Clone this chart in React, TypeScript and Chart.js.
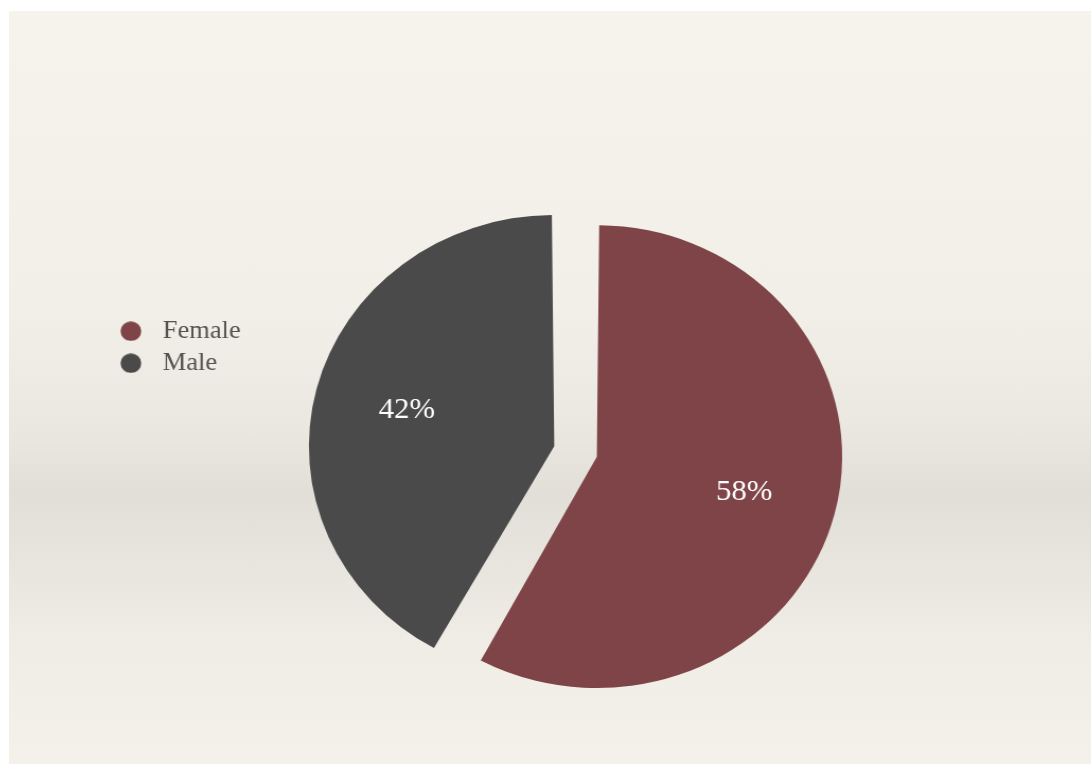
import React, { useEffect, useRef } from 'react';
import { Chart, registerables } from 'chart.js';

Chart.register(...registerables);

// ---- data ----
const categories: string[] = ['Female', 'Male'];
const shares: number[] = [58, 42];
const sliceColors: string[] = ['#7e4447', '#4a4a4a'];
const sliceOffsets: number[] = [56.6, 109.4];

// ---- geometry of the (horizontally stretched) slide ----
const STRETCH = 1.06;
const CW = 1021;
const CH = 753;

function makeDot(color: string): HTMLCanvasElement {
  const c = document.createElement('canvas');
  c.width = 20;
  c.height = 20;
  const x = c.getContext('2d') as CanvasRenderingContext2D;
  x.fillStyle = color;
  x.beginPath();
  x.arc(10, 10, 9.75, 0, Math.PI * 2);
  x.fill();
  return c;
}

const sliceLabels = {
  id: 'sliceLabels',
  afterDatasetsDraw(chart: any) {
    const ctx = chart.ctx as CanvasRenderingContext2D;
    const meta = chart.getDatasetMeta(0);
    ctx.save();
    ctx.font = '29px "Liberation Serif"';
    ctx.fillStyle = '#ffffff';
    ctx.textAlign = 'center';
    ctx.textBaseline = 'middle';
    meta.data.forEach((arc: any, i: number) => {
      const p = arc.getProps(['x', 'y', 'startAngle', 'endAngle', 'outerRadius', 'circumference'], true);
      const h = (p.startAngle + p.endAngle) / 2;
      const off = (arc.options.offset || 0) / 4;
      const fix = 1 - Math.sin(Math.min(Math.PI, p.circumference || 0));
      const r = p.outerRadius + off * fix;
      const d = off + 0.62 * r;
      ctx.fillText(`${shares[i]}%`, p.x + Math.cos(h) * d, p.y + Math.sin(h) * d);
    });
    ctx.restore();
  },
};

export default function App() {
  const ref = useRef<HTMLCanvasElement | null>(null);

  useEffect(() => {
    if (!ref.current) return;
    const dots = sliceColors.map(makeDot);
    const chart = new Chart(ref.current, {
      type: 'pie',
      data: {
        labels: categories,
        datasets: [
          {
            data: shares,
            backgroundColor: sliceColors,
            borderWidth: 0,
            offset: sliceOffsets,
            hoverOffset: 0,
            radius: 217.3,
            clip: false,
          } as any,
        ],
      },
      options: {
        responsive: false,
        maintainAspectRatio: false,
        devicePixelRatio: 1,
        animation: false,
        events: [],
        layout: {
          padding: { left: 90.5, right: 29.8, top: 131.3, bottom: 0 },
        },
        plugins: {
          tooltip: { enabled: false },
          title: { display: false },
          legend: {
            display: true,
            position: 'chartArea' as any,
            align: 'start',
            title: {
              display: true,
              text: '',
              font: { size: 10, lineHeight: 1 },
              padding: { top: 290.7, bottom: 0 },
            },
            labels: {
              usePointStyle: true,
              pointStyleWidth: 35,
              padding: 7,
              color: '#56524f',
              font: { family: 'Liberation Serif', size: 25 },
              generateLabels: (c: any) => {
                const base = (Chart as any).overrides.doughnut.plugins.legend.labels.generateLabels(c);
                return base.map((it: any, i: number) => ({ ...it, pointStyle: dots[i] }));
              },
            },
          },
        },
      },
      plugins: [sliceLabels],
    });
    return () => chart.destroy();
  }, []);

  return (
    <div
      style={{
        position: 'fixed',
        left: 0,
        top: 0,
        width: 1091,
        height: 764,
        overflow: 'hidden',
        background: '#ffffff',
      }}
    >
      <div
        style={{
          position: 'absolute',
          left: 9,
          top: 11,
          width: 1082,
          height: 753,
          overflow: 'hidden',
          background:
            'linear-gradient(to bottom, #f6f3ed 0%, #f2efe9 40%, #ebe7e1 55%, #e2ded8 64%, #e7e3dd 72%, #f0ede7 84%, #f4f1eb 100%)',
        }}
      >
        <canvas
          ref={ref}
          width={CW}
          height={CH}
          style={{ transform: `scaleX(${STRETCH})`, transformOrigin: '0 0', display: 'block' }}
        />
      </div>
    </div>
  );
}
